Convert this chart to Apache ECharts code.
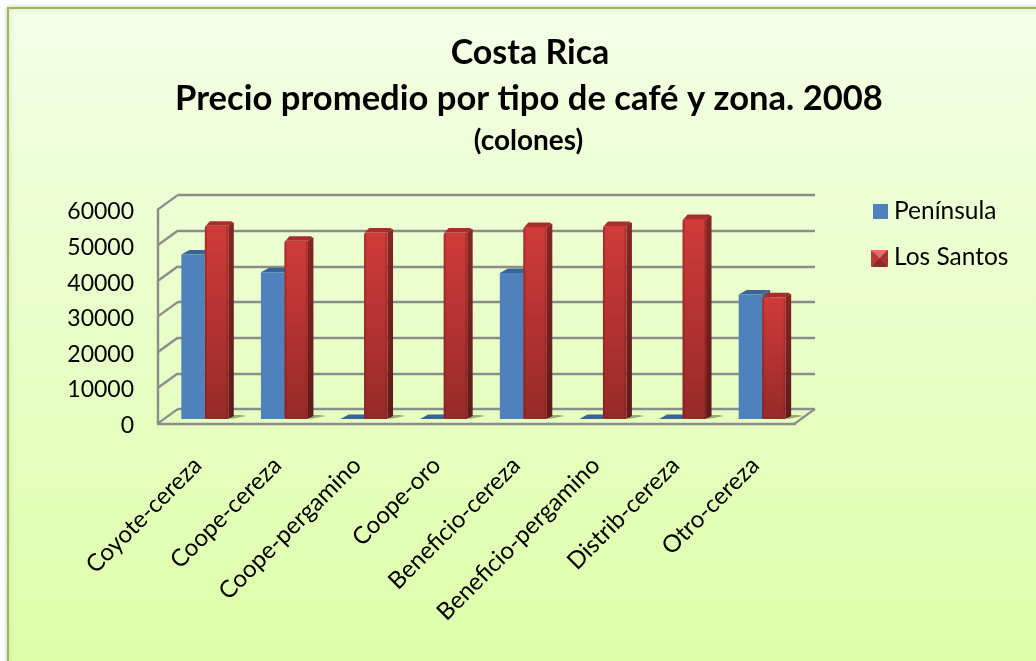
<!DOCTYPE html>
<html><head><meta charset="utf-8">
<style>html,body{margin:0;padding:0;background:#fff;overflow:hidden}#c{width:1036px;height:661px}</style>
<script src="https://cdn.jsdelivr.net/npm/echarts@6/dist/echarts.min.js"></script>
</head><body><div id="c"></div>
<script>
const categories = ['Coyote-cereza','Coope-cereza','Coope-pergamino','Coope-oro','Beneficio-cereza','Beneficio-pergamino','Distrib-cereza','Otro-cereza'];
const peninsula = [46200,41200,0,0,41000,0,0,35000];
const losSantos = [54300,50100,52400,52400,53900,54200,56200,34200];
const yTicks = [0,10000,20000,30000,40000,50000,60000];
const FONT = 'Lato, "Open Sans", sans-serif';
const GRAY = '#8c8c8c';
const chart = echarts.init(document.getElementById('c'), null, {renderer:'canvas'});
const LG = (a,b,x)=>new echarts.graphic.LinearGradient(0,0,x?1:0,x?0:1,[{offset:0,color:a},{offset:1,color:b}]);

function renderBlue(params, api){
  const v = api.value(1), p = api.coord([api.value(0), v]), base = api.coord([api.value(0),0]);
  const w = api.size([1,0])[0]*0.295, d=8, h=4.5, x=p[0]-w, y=p[1], b=base[1];
  return {type:'group',children:[
    {type:'polygon',shape:{points:[[x,y],[x+d,y-h],[x+w+d,y-h],[x+w,y]]},style:{fill:'#3a6496'}},
    {type:'polygon',shape:{points:[[x+w,y],[x+w+d,y-h],[x+w+d,b-h],[x+w,b]]},style:{fill:'#39618f'}},
    {type:'rect',shape:{x:x,y:y,width:w,height:b-y},style:{fill:'#4f81bd'}}
  ]};
}
function renderRed(params, api){
  const v = api.value(1), p = api.coord([api.value(0), v]), base = api.coord([api.value(0),0]);
  const w = api.size([1,0])[0]*0.295, d=5.5, h=4.5, x=p[0], y=p[1], b=base[1];
  return {type:'group',children:[
    {type:'polygon',shape:{points:[[x+w+2,b],[x+w+18,b-3],[x+w+12,b-4],[x+w+3,b-4]]},style:{fill:'rgba(90,100,50,0.55)'}},
    {type:'polygon',shape:{points:[[x+w,y],[x+w+d,y-h+1],[x+w+d,b-3],[x+w,b]]},style:{fill:LG('#842624','#5f1a1a')}},
    {type:'polygon',shape:{points:[[x+1,y],[x+5,y-h],[x+w+3,y-h],[x+w+d,y-h+2],[x+w,y]]},style:{fill:'#a62e2c'}},
    {type:'rect',shape:{x:x,y:y,width:w,height:b-y,r:[3,1,1,2]},style:{fill:LG('#cf3b39','#962a29')}},
    {type:'rect',shape:{x:x,y:y,width:2,height:b-y},style:{fill:'rgba(110,25,25,0.35)'}},
    {type:'rect',shape:{x:x+w-2,y:y,width:2,height:b-y},style:{fill:'rgba(110,25,25,0.3)'}}
  ]};
}
function renderWall(params, api){
  const p = api.coord([0, api.value(1)]);
  const x = p[0]-api.size([1,0])[0]/2;
  return {type:'line',shape:{x1:x,y1:p[1],x2:x+20,y2:p[1]-14.5},style:{stroke:GRAY,lineWidth:2.4}};
}
function renderFloor(params, api){
  const p = api.coord([categories.length-1, 0]);
  const x = p[0]+api.size([1,0])[0]/2;
  return {type:'line',shape:{x1:x,y1:p[1],x2:x+20,y2:p[1]-14.5},style:{stroke:GRAY,lineWidth:2.4}};
}
const legendRed = [
 {type:'polygon',shape:{points:[[871,250],[888,250],[879.5,258.5]]},style:{fill:'#ee6668'},z:30},
 {type:'polygon',shape:{points:[[871,250],[879.5,258.5],[871,267]]},style:{fill:'#b93a38'},z:30},
 {type:'polygon',shape:{points:[[888,250],[879.5,258.5],[888,267]]},style:{fill:'#a83231'},z:30},
 {type:'polygon',shape:{points:[[871,267],[879.5,258.5],[888,267]]},style:{fill:'#8c2a29'},z:30}
];
chart.setOption({
  animation:false,
  graphic:[
    {type:'rect',z:-10,shape:{x:8,y:8,width:1040,height:670},style:{fill:LG('#f4ffe6','#dcffa8'),stroke:'#9bbb59',lineWidth:2,shadowBlur:5,shadowColor:'rgba(0,0,0,0.2)'}},
    ...legendRed
  ],
  title:[
    {text:'Costa Rica',left:525,top:31,textAlign:'center',textStyle:{fontFamily:FONT,fontSize:34,fontWeight:'bold',color:'#000'}},
    {text:'Precio promedio por tipo de café y zona. 2008',left:524,top:76,textAlign:'center',textStyle:{fontFamily:FONT,fontSize:34.6,fontWeight:'bold',color:'#000'}},
    {text:'(colones)',left:523.5,top:122,textAlign:'center',textStyle:{fontFamily:FONT,fontSize:28,fontWeight:'bold',color:'#000'}}
  ],
  legend:{orient:'vertical',left:868,top:194,itemGap:21,itemWidth:15,itemHeight:15,icon:'rect',selectedMode:false,
    textStyle:{fontFamily:FONT,fontSize:24.5,color:'#000',padding:[0,0,0,1]},
    data:[{name:'Península',itemStyle:{color:'#4f81bd'}},{name:'Los Santos',itemStyle:{color:'#9e2c2b'}}]},
  grid:[
    {left:178,width:637,top:195,height:214.2},
    {left:158,width:637,top:209.4,height:214},
    {left:165,width:637,top:205.4,height:213.6},
    {left:158,width:637,top:212,height:213.5}
  ],
  xAxis:[
    {type:'category',gridIndex:0,data:categories,axisLine:{show:false},axisTick:{show:false},axisLabel:{show:false},splitLine:{show:false}},
    {type:'category',gridIndex:1,data:categories,axisLine:{show:true,lineStyle:{color:GRAY,width:2.4}},axisTick:{show:false},
      axisLabel:{interval:0,rotate:45,margin:38,fontFamily:FONT,fontSize:24,color:'#000'}},
    {type:'category',gridIndex:2,data:categories,axisLine:{show:false},axisTick:{show:false},axisLabel:{show:false}},
    {type:'category',gridIndex:3,data:categories,show:false}
  ],
  yAxis:[
    {type:'value',gridIndex:0,min:0,max:60000,interval:10000,axisLine:{show:false},axisTick:{show:false},axisLabel:{show:false},splitLine:{show:true,lineStyle:{color:GRAY,width:2.4}}},
    {type:'value',gridIndex:1,min:0,max:60000,interval:10000,axisLine:{show:true,lineStyle:{color:GRAY,width:2.4}},axisTick:{show:false},axisLabel:{show:false},splitLine:{show:false}},
    {type:'value',gridIndex:2,min:0,max:60000,interval:10000,show:false},
    {type:'value',gridIndex:3,min:0,max:60000,interval:10000,axisLine:{show:false},axisTick:{show:false},splitLine:{show:false},
      axisLabel:{margin:24,fontFamily:FONT,fontSize:23,color:'#000',formatter:v=>String(v)}}
  ],
  series:[
    {type:'custom',name:'wall',xAxisIndex:1,yAxisIndex:1,renderItem:renderWall,data:yTicks.map(v=>[0,v]),encode:{x:0,y:1},z:1,silent:true},
    {type:'custom',name:'floor',xAxisIndex:1,yAxisIndex:1,renderItem:renderFloor,data:[[0,0]],encode:{x:0,y:1},z:1,silent:true},
    {type:'custom',name:'Península',xAxisIndex:2,yAxisIndex:2,renderItem:renderBlue,data:peninsula.map((v,i)=>[i,v]),encode:{x:0,y:1},z:3,itemStyle:{color:'#4f81bd'}},
    {type:'custom',name:'Los Santos',xAxisIndex:2,yAxisIndex:2,renderItem:renderRed,data:losSantos.map((v,i)=>[i,v]),encode:{x:0,y:1},z:4,itemStyle:{color:'#9e2c2b'}}
  ]
});
</script></body></html>
